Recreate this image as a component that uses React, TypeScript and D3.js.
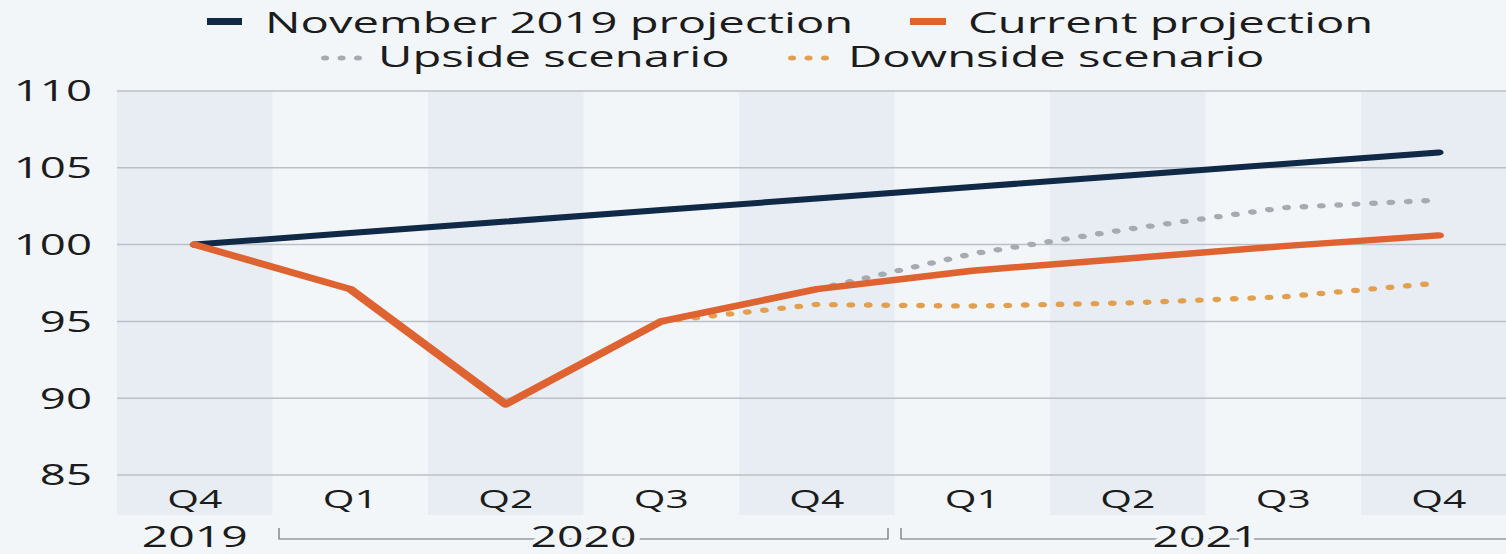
import React from 'react';
import * as d3 from 'd3';

// Quarterly GDP index (Q4 2019 = 100)
const quarters = ['Q4', 'Q1', 'Q2', 'Q3', 'Q4', 'Q1', 'Q2', 'Q3', 'Q4'];
const yearLabels = ['2019', '2020', '2021'];
const yearFirstQuarter = [0, 1, 5];
const yearLastQuarter = [0, 4, 8];
const yTicks = [85, 90, 95, 100, 105, 110];

const novemberProjection: (number | null)[] = [100, 100.75, 101.5, 102.25, 103.0, 103.75, 104.5, 105.25, 106.0];
const currentProjection: (number | null)[] = [100, 97.1, 89.6, 95.0, 97.1, 98.3, 99.1, 99.9, 100.6];
const upsideScenario: (number | null)[] = [null, null, null, null, 97.1, 99.4, 101.0, 102.4, 102.9];
const downsideScenario: (number | null)[] = [null, null, null, 95.0, 96.1, 96.0, 96.2, 96.6, 97.5];

const W = 1506;
const H = 554;
const SX = 1.6; // horizontal stretch of the whole drawing
const FONT = '"Open Sans", "Noto Sans", sans-serif';
const BG = '#f3f6f9';
const BAND = '#e8edf4';
const GRID = '#bcc0c6';
const TEXT = '#1c1c1c';
const NAVY = '#0f2946';
const ORANGE = '#df6330';
const GREY_DOT = '#a6aab1';
const GOLD_DOT = '#e2a04e';

const lx = (px: number) => px / SX;

export default function App() {
  const plotLeft = lx(117);
  const bandW = lx(155.5);
  const x = d3
    .scaleBand<number>()
    .domain(quarters.map((_, i) => i))
    .range([plotLeft, plotLeft + bandW * quarters.length])
    .padding(0);
  const cx = (i: number) => (x(i) as number) + x.bandwidth() / 2;
  const y = d3.scaleLinear().domain([85, 110]).range([475, 91]);

  const line = d3
    .line<number | null>()
    .defined((d) => d != null)
    .x((_, i) => cx(i))
    .y((d) => y(d as number));

  const dotted = { strokeDasharray: '0.1 10.8', strokeLinecap: 'round' as const };

  return (
    <svg
      width={W}
      height={H}
      style={{ position: 'absolute', left: 0, top: 0, display: 'block' }}
    >
      <rect x={0} y={0} width={W} height={H} fill={BG} />
      <g transform={`scale(${SX},1)`} fontFamily={FONT}>
        {/* alternating column bands */}
        {quarters.map((_, i) =>
          i % 2 === 0 ? (
            <rect key={`b${i}`} x={x(i)} y={y(110)} width={x.bandwidth()} height={515 - y(110)} fill={BAND} />
          ) : null
        )}

        {/* horizontal grid */}
        {yTicks.map((t) => (
          <line key={`g${t}`} x1={plotLeft} x2={lx(W)} y1={y(t)} y2={y(t)} stroke={GRID} strokeWidth={1.5} />
        ))}
        {yTicks.map((t) => (
          <text key={`t${t}`} x={lx(92)} y={y(t) + 10.5} textAnchor="end" fontSize={28.5} fill={TEXT}>
            {t}
          </text>
        ))}

        {/* quarter labels */}
        {quarters.map((q, i) => (
          <text key={`q${i}`} x={cx(i)} y={508} textAnchor="middle" fontSize={25.5} fill={TEXT}>
            {q}
          </text>
        ))}

        {/* year brackets */}
        {yearLabels.map((yr, k) => {
          const a = yearFirstQuarter[k];
          const b = yearLastQuarter[k];
          const x0 = (x(a) as number) + lx(6.5);
          const x1 = (x(b) as number) + x.bandwidth() - lx(6.5);
          const mid = ((x(a) as number) + (x(b) as number) + x.bandwidth()) / 2;
          return (
            <g key={`y${yr}`}>
              {b > a ? (
                <path
                  d={`M${x0},528V539H${x1}V528`}
                  fill="none"
                  stroke="#6a6e74"
                  strokeWidth={1.2}
                  style={{ vectorEffect: 'non-scaling-stroke' }}
                />
              ) : null}
              <text
                x={mid}
                y={547}
                textAnchor="middle"
                fontSize={29}
                fill={TEXT}
                stroke={BG}
                strokeWidth={b > a ? 7 : 0}
                paintOrder="stroke"
              >
                {yr}
              </text>
            </g>
          );
        })}

        {/* series */}
        <path d={line(novemberProjection) || ''} fill="none" stroke={NAVY} strokeWidth={6} strokeLinecap="round" strokeLinejoin="round" />
        <path d={line(upsideScenario) || ''} fill="none" stroke={GREY_DOT} strokeWidth={5.4} {...dotted} />
        <path d={line(downsideScenario) || ''} fill="none" stroke={GOLD_DOT} strokeWidth={5.4} {...dotted} />
        <path d={line(currentProjection) || ''} fill="none" stroke={ORANGE} strokeWidth={6.5} strokeLinecap="round" strokeLinejoin="round" />

        {/* legend */}
        <rect x={lx(207)} y={18} width={lx(35)} height={7} fill={NAVY} />
        <text x={lx(265)} y={33} fontSize={29.5} fill={TEXT}>November 2019 projection</text>
        <rect x={lx(910)} y={18} width={lx(36)} height={7} fill={ORANGE} />
        <text x={lx(968)} y={33} fontSize={29.5} fill={TEXT}>Current projection</text>
        <line x1={lx(325)} x2={lx(358)} y1={58} y2={58} stroke={GREY_DOT} strokeWidth={5} strokeDasharray="0.1 10.2" strokeLinecap="round" />
        <text x={lx(378)} y={67} fontSize={29.5} fill={TEXT}>Upside scenario</text>
        <line x1={lx(792)} x2={lx(825)} y1={58} y2={58} stroke={GOLD_DOT} strokeWidth={5} strokeDasharray="0.1 10.2" strokeLinecap="round" />
        <text x={lx(848)} y={67} fontSize={29.5} fill={TEXT}>Downside scenario</text>
      </g>
    </svg>
  );
}
